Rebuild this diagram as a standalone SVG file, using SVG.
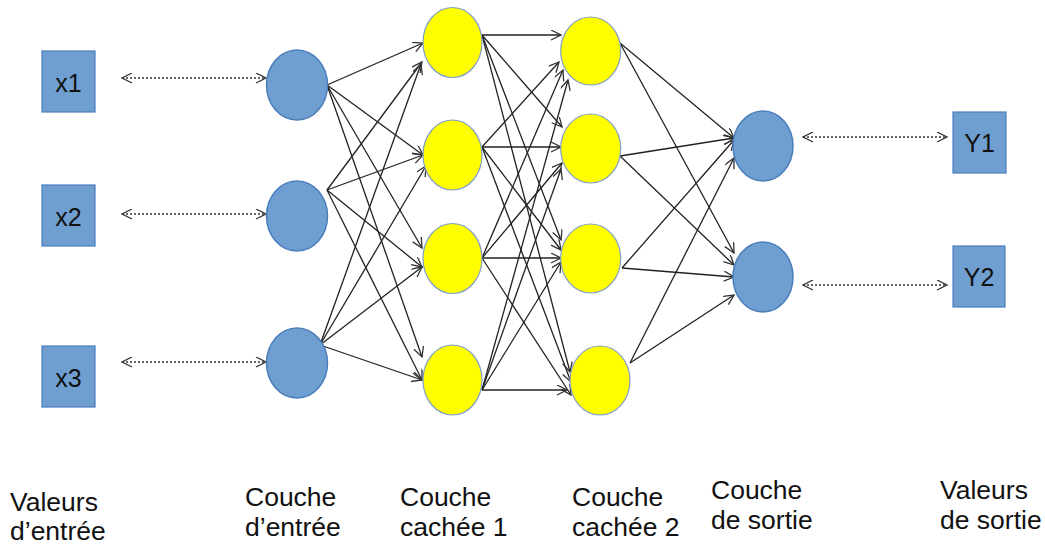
<svg xmlns="http://www.w3.org/2000/svg" width="1045" height="544" viewBox="0 0 1045 544">
<style>
.blue{fill:#6f9fd0;stroke:#4a7ebb;stroke-width:1.5}
.yel{fill:#ffff00;stroke:#7f9fc6;stroke-width:1.2}
.box{fill:#6f9fd0;stroke:#4a7ebb;stroke-width:1.2}
.bt{font-family:"Liberation Sans",Arial,sans-serif;font-size:25px;fill:#111;text-anchor:middle}
.lbl{font-family:"Liberation Sans",Arial,sans-serif;font-size:26.5px;fill:#111}
.e{fill:none;stroke:#222;stroke-width:1.3;marker-end:url(#ah)}
.d{fill:none;stroke:#333;stroke-width:1.3;stroke-dasharray:2 2;marker-start:url(#ahs);marker-end:url(#ah)}
</style>
<defs>
<marker id="ah" markerUnits="userSpaceOnUse" markerWidth="14" markerHeight="12" refX="11" refY="5" orient="auto">
<path d="M1,0 L11,5 L1,10" fill="none" stroke="#333" stroke-width="1.3" stroke-dasharray="none"/>
</marker>
<marker id="ahs" markerUnits="userSpaceOnUse" markerWidth="14" markerHeight="12" refX="1" refY="5" orient="auto">
<path d="M11,0 L1,5 L11,10" fill="none" stroke="#333" stroke-width="1.3" stroke-dasharray="none"/>
</marker>
</defs>

<g id="connectors">
<line class="d" x1="122" y1="78" x2="266" y2="78"/>
<line class="d" x1="122" y1="214" x2="266" y2="214"/>
<line class="d" x1="122" y1="362" x2="266" y2="362"/>
<line class="d" x1="803" y1="137" x2="947" y2="137"/>
<line class="d" x1="803" y1="285" x2="947" y2="285"/>
<line class="e" x1="327" y1="85" x2="423" y2="43"/>
<line class="e" x1="327" y1="85" x2="423" y2="155"/>
<line class="e" x1="327" y1="85" x2="422" y2="248"/>
<line class="e" x1="327" y1="85" x2="422" y2="357"/>
<line class="e" x1="327" y1="190" x2="422" y2="62"/>
<line class="e" x1="327" y1="190" x2="423" y2="155"/>
<line class="e" x1="327" y1="190" x2="422" y2="267"/>
<line class="e" x1="327" y1="190" x2="422" y2="380"/>
<line class="e" x1="320" y1="345" x2="421" y2="64"/>
<line class="e" x1="320" y1="345" x2="426" y2="166"/>
<line class="e" x1="320" y1="345" x2="422" y2="267"/>
<line class="e" x1="320" y1="345" x2="422" y2="380"/>
<line class="e" x1="482" y1="35" x2="561" y2="35"/>
<line class="e" x1="482" y1="35" x2="562" y2="127"/>
<line class="e" x1="482" y1="35" x2="561" y2="240"/>
<line class="e" x1="482" y1="35" x2="570" y2="372"/>
<line class="e" x1="482" y1="147" x2="559" y2="62"/>
<line class="e" x1="482" y1="147" x2="561" y2="147"/>
<line class="e" x1="482" y1="147" x2="561" y2="250"/>
<line class="e" x1="482" y1="147" x2="571" y2="382"/>
<line class="e" x1="482" y1="258" x2="563" y2="70"/>
<line class="e" x1="482" y1="258" x2="562" y2="163"/>
<line class="e" x1="482" y1="258" x2="561" y2="258"/>
<line class="e" x1="482" y1="258" x2="571" y2="395"/>
<line class="e" x1="482" y1="390" x2="568" y2="80"/>
<line class="e" x1="482" y1="390" x2="561" y2="169"/>
<line class="e" x1="482" y1="390" x2="561" y2="262"/>
<line class="e" x1="482" y1="390" x2="567" y2="390"/>
<line class="e" x1="620" y1="43" x2="734" y2="138"/>
<line class="e" x1="620" y1="43" x2="734" y2="253"/>
<line class="e" x1="620" y1="156" x2="734" y2="138"/>
<line class="e" x1="620" y1="156" x2="734" y2="265"/>
<line class="e" x1="622" y1="268" x2="734" y2="140"/>
<line class="e" x1="622" y1="268" x2="734" y2="277"/>
<line class="e" x1="630" y1="363" x2="734" y2="158"/>
<line class="e" x1="630" y1="363" x2="734" y2="295"/>
</g>

<g id="x1"><rect class="box" x="42" y="51" width="53" height="61"/><text class="bt" x="68.5" y="92">x1</text></g>
<g id="x2"><rect class="box" x="42" y="185" width="53" height="61"/><text class="bt" x="68.5" y="226">x2</text></g>
<g id="x3"><rect class="box" x="42" y="346" width="53" height="61"/><text class="bt" x="68.5" y="387">x3</text></g>

<g id="in1"><ellipse class="blue" cx="297" cy="85" rx="30.5" ry="35"/></g>
<g id="in2"><ellipse class="blue" cx="297" cy="216" rx="30.5" ry="35"/></g>
<g id="in3"><ellipse class="blue" cx="297" cy="363" rx="30.5" ry="35"/></g>

<g id="h1n1"><ellipse class="yel" cx="452.5" cy="42.5" rx="29.5" ry="35"/></g>
<g id="h1n2"><ellipse class="yel" cx="452.5" cy="155" rx="29.5" ry="35"/></g>
<g id="h1n3"><ellipse class="yel" cx="452.5" cy="258.5" rx="29.5" ry="35"/></g>
<g id="h1n4"><ellipse class="yel" cx="452.5" cy="380" rx="29.5" ry="35"/></g>

<g id="h2n1"><ellipse class="yel" cx="590.7" cy="51" rx="30" ry="34"/></g>
<g id="h2n2"><ellipse class="yel" cx="590.7" cy="148.5" rx="30" ry="34.5"/></g>
<g id="h2n3"><ellipse class="yel" cx="590.7" cy="258.5" rx="30" ry="34.5"/></g>
<g id="h2n4"><ellipse class="yel" cx="600" cy="380.5" rx="30" ry="34.5"/></g>

<g id="out1"><ellipse class="blue" cx="763" cy="146" rx="30" ry="35"/></g>
<g id="out2"><ellipse class="blue" cx="763" cy="277" rx="30" ry="35"/></g>

<g id="y1"><rect class="box" x="953" y="112" width="53" height="61"/><text class="bt" x="979.5" y="152">Y1</text></g>
<g id="y2"><rect class="box" x="953" y="246" width="52" height="61"/><text class="bt" x="979" y="286">Y2</text></g>

<g id="labels">
<text class="lbl" x="10" y="511">Valeurs</text>
<text class="lbl" x="10" y="540">d’entrée</text>
<text class="lbl" x="245" y="506">Couche</text>
<text class="lbl" x="245" y="536">d’entrée</text>
<text class="lbl" x="400" y="506">Couche</text>
<text class="lbl" x="400" y="536">cachée 1</text>
<text class="lbl" x="572" y="506">Couche</text>
<text class="lbl" x="572" y="536">cachée 2</text>
<text class="lbl" x="711" y="499">Couche</text>
<text class="lbl" x="711" y="529">de sortie</text>
<text class="lbl" x="940" y="499">Valeurs</text>
<text class="lbl" x="940" y="529">de sortie</text>
</g>
</svg>
